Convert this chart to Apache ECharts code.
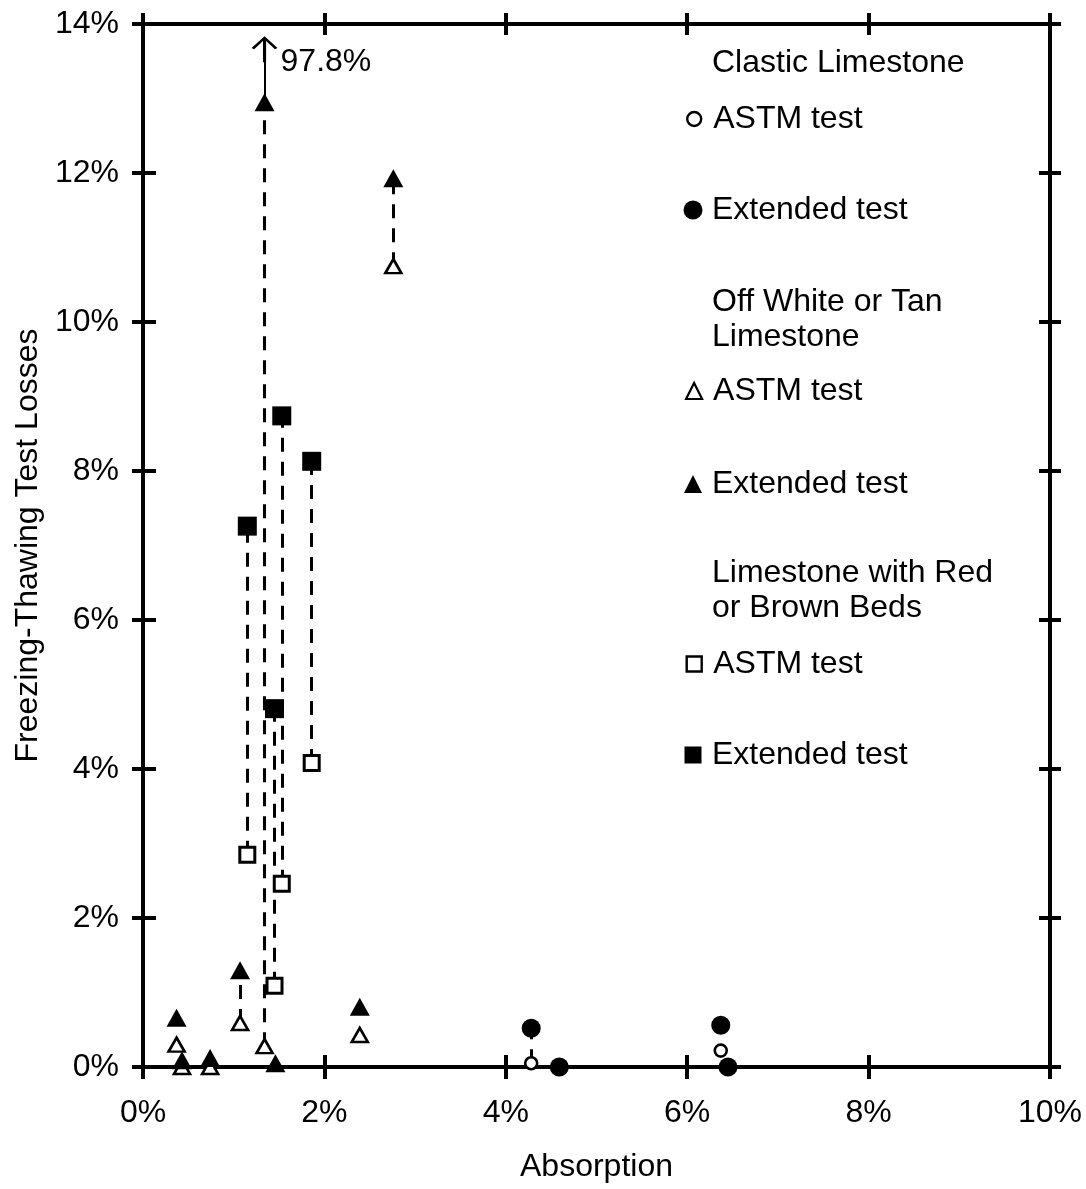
<!DOCTYPE html>
<html><head><meta charset="utf-8">
<script src="https://cdn.jsdelivr.net/npm/echarts@6/dist/echarts.min.js"></script>
<style>html,body{margin:0;padding:0;background:#fff}#c{width:1086px;height:1189px}</style>
</head><body><div id="c"></div>
<script>
// ---- data (percent) ----
const xRange = [0, 10];
const yRange = [0, 14];
const tickStep = 2;
const clasticAstm = [[4.28, 0.05], [6.37, 0.22]];
const clasticExt  = [[4.28, 0.52], [4.59, 0.0], [6.37, 0.56], [6.45, 0.0]];
const tanAstm = [[0.37, 0.30], [0.43, 0.0], [0.74, 0.0], [1.07, 0.59], [1.34, 0.28], [2.39, 0.43], [2.76, 10.75]];
const tanExt  = [[0.37, 0.66], [0.43, 0.09], [0.74, 0.12], [1.07, 1.30], [1.34, 12.95], [1.46, 0.05], [2.39, 0.81], [2.76, 11.93]];
const redAstm = [[1.15, 2.85], [1.45, 1.09], [1.53, 2.46], [1.86, 4.08]];
const redExt  = [[1.15, 7.26], [1.45, 4.81], [1.53, 8.74], [1.86, 8.13]];
// pairs joined by a dashed line (by absorption value)
const linkedX = [4.28, 1.07, 1.34, 2.76, 1.15, 1.45, 1.53, 1.86];
// off-scale extended result
const offScale = { x: 1.34, plotted: 12.95, arrowTo: 13.66, labelAt: 13.49, actual: '97.8%' };
const headers = [
  { text: 'Clastic Limestone', center: 63 },
  { text: 'Off White or Tan\nLimestone', center: 320 },
  { text: 'Limestone with Red\nor Brown Beds', center: 591 }
];

const FONT = "'Liberation Sans', Arial, sans-serif";
const FS = 32;
const K = '#000';

function buildLinks() {
  const all = [[clasticAstm, clasticExt], [tanAstm, tanExt], [redAstm, redExt]];
  const out = [];
  all.forEach(([a, e]) => {
    a.forEach(p => {
      if (linkedX.indexOf(p[0]) < 0) return;
      const q = e.find(r => r[0] === p[0]);
      if (q) out.push({ coords: [[p[0], p[1]], [q[0], q[1]]] });
    });
  });
  return out;
}

const axisBase = (pos, inside, len, showLabel, isX) => ({
  type: 'value',
  min: isX ? xRange[0] : yRange[0],
  max: isX ? xRange[1] : yRange[1],
  interval: tickStep,
  position: pos,
  axisLine: { show: true, onZero: false, lineStyle: { color: K, width: 4 } },
  axisTick: { show: true, inside: inside, length: len, lineStyle: { color: K, width: 4 } },
  axisLabel: showLabel ? {
    show: true, color: K, fontFamily: FONT, fontSize: FS,
    margin: isX ? 30 : 24, formatter: v => v + '%'
  } : { show: false },
  splitLine: { show: false }
});

const xAxes = [
  Object.assign(axisBase('bottom', false, 12, true, true), {
    name: 'Absorption', nameLocation: 'middle', nameGap: 84, nameMoveOverlap: false,
    nameTextStyle: { color: K, fontFamily: FONT, fontSize: FS }
  }),
  axisBase('bottom', true, 12, false, true),
  axisBase('top', false, 11, false, true),
  axisBase('top', true, 11, false, true)
];
const yAxes = [
  Object.assign(axisBase('left', false, 11, true, false), {
    name: 'Freezing-Thawing Test Losses', nameLocation: 'middle', nameGap: 96,
    nameTextStyle: { color: K, fontFamily: FONT, fontSize: FS }
  }),
  axisBase('left', true, 13, false, false),
  axisBase('right', false, 11, false, false),
  axisBase('right', true, 11, false, false)
];

const openStyle = { color: '#fff', borderColor: K, borderWidth: 2.6, opacity: 1 };
const fillStyle = { color: K, borderColor: K, borderWidth: 0, opacity: 1 };

const scatter = (name, data, symbol, size, style, z) => ({
  name, type: 'scatter', data, symbol, symbolSize: size,
  itemStyle: style, clip: false, z: z, silent: true, animation: false
});

const arrowPath = 'path://M5,0 L10,9 L9,10 L5.6,3.5 L5.6,20 L4.4,20 L4.4,3.5 L1,10 L0,9 Z';

const series = [
  {
    name: 'links', type: 'lines', coordinateSystem: 'cartesian2d',
    data: buildLinks(), symbol: ['none', 'none'], silent: true, z: 1, animation: false,
    lineStyle: { color: K, width: 3, type: [14, 10], opacity: 1 }
  },
  {
    name: 'offscale', type: 'lines', coordinateSystem: 'cartesian2d',
    data: [{ coords: [[offScale.x, offScale.plotted], [offScale.x, offScale.arrowTo]] }],
    symbol: ['none', arrowPath], symbolSize: [13, 26], silent: true, z: 1, animation: false,
    lineStyle: { color: K, width: 2, type: 'solid', opacity: 1 }
  },
  {
    name: 'offscaleLabel', type: 'scatter', data: [[offScale.x, offScale.labelAt]],
    symbolSize: 0, silent: true, animation: false, clip: false,
    itemStyle: { opacity: 1, color: K },
    label: { show: true, position: 'right', distance: 16, formatter: offScale.actual,
      color: K, fontFamily: FONT, fontSize: FS, opacity: 1 }
  },
  scatter('Clastic ASTM', clasticAstm, 'circle', 12, openStyle, 3),
  scatter('Clastic Extended', clasticExt, 'circle', 19, fillStyle, 4),
  scatter('Tan ASTM', tanAstm, 'triangle', [16, 14], openStyle, 3),
  scatter('Tan Extended', tanExt, 'triangle', [20, 18], fillStyle, 4),
  scatter('Red ASTM', redAstm, 'rect', 15, Object.assign({}, openStyle, { borderWidth: 3 }), 3),
  scatter('Red Extended', redExt, 'rect', 19, fillStyle, 4)
];

const ICON_CX = 693, TEXT_X = 712;
const legendItems = [
  { name: 'Clastic ASTM', center: 119, size: 14, bw: 2.4 },
  { name: 'Clastic Extended', center: 210, size: 19, bw: 0 },
  { name: 'Tan ASTM', center: 391, size: 16, bw: 2.2 },
  { name: 'Tan Extended', center: 484, size: 18, bw: 0 },
  { name: 'Red ASTM', center: 664, size: 15, bw: 2.4 },
  { name: 'Red Extended', center: 755, size: 17, bw: 0 }
];
const legends = legendItems.map(it => ({
  data: [it.name], left: ICON_CX - it.size / 2, top: it.center - 18, padding: 0,
  orient: 'vertical', selectedMode: false,
  itemWidth: it.size, itemHeight: it.size,
  itemStyle: it.bw ? { borderWidth: it.bw, opacity: 1 } : { opacity: 1 },
  formatter: n => (/ASTM$/.test(n) ? 'ASTM test' : 'Extended test'),
  textStyle: { color: K, fontFamily: FONT, fontSize: FS, lineHeight: 36,
    padding: [0, 0, 0, TEXT_X - (ICON_CX + it.size / 2) - 5] }
}));

const graphics = headers.map(h => {
  const lines = h.text.split('\n').length;
  const lh = 35;
  return {
    type: 'text', left: TEXT_X, top: h.center - lines * lh / 2,
    style: { text: h.text, fill: K, font: FS + 'px ' + FONT, lineHeight: lh }
  };
});

const chart = echarts.init(document.getElementById('c'), null, { renderer: 'canvas' });
chart.setOption({
  backgroundColor: '#fff',
  animation: false,
  grid: { left: 143, right: 36, top: 24, bottom: 122, containLabel: false },
  xAxis: xAxes,
  yAxis: yAxes,
  legend: legends,
  graphic: graphics,
  series: series
});
</script></body></html>
